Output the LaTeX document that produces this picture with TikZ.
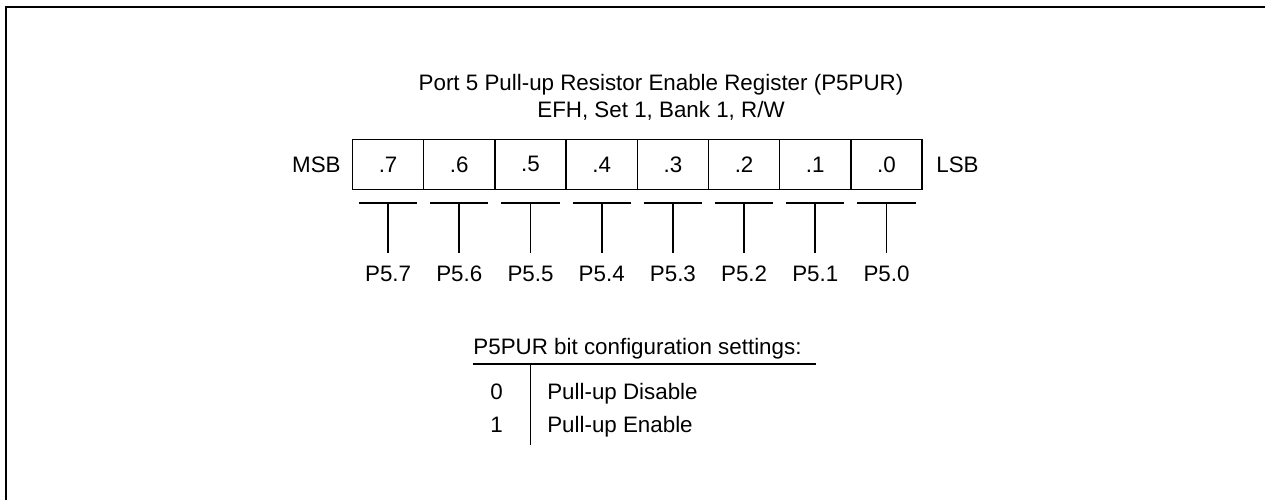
\documentclass[tikz,border=0pt]{standalone}
\usepackage{fontspec}
\setmainfont{Liberation Sans}
\usetikzlibrary{positioning}

\begin{document}
\begin{tikzpicture}[
    x=0.025cm, y=-0.025cm,
    every node/.style={font=\fontsize{15.9}{19}\selectfont, inner sep=0pt},
    cell/.style={rectangle, draw, line width=1.07pt, minimum width=1.78cm, minimum height=1.245cm},
    bar/.style={line width=1.2pt},
    frame/.style={line width=1.6pt}
]
\useasboundingbox (0,0) rectangle (1265,500);
% outer frame
\draw[frame] (5.7,500) -- (5.7,7.3) -- (1265,7.3);

% register title
\node[anchor=base] (title) at (661,90) {Port 5 Pull-up Resistor Enable Register (P5PUR)};
\node[anchor=base] (addr) at (661,117) {EFH, Set 1, Bank 1, R/W};

% bit cells, pin bars and pin names
\foreach \n [count=\i from 0] in {7,...,0} {
  \node[cell] (b\n) at (388.1+71.2*\i, 164.4) {.\n};
  \coordinate (t\n) at (388.1+71.2*\i, 203.3);
  \coordinate (e\n) at (388.1+71.2*\i, 253.3);
  \draw[bar] ([xshift=-0.725cm]t\n) -- ([xshift=0.725cm]t\n);
  \draw[bar] (t\n) -- (e\n);
  \node[anchor=base] (p\n) at (388.1+71.2*\i, 281.5) {P5.\n};
}
\node[left=0.27cm of b7] (msb) {MSB};
\node[right=0.33cm of b0] (lsb) {LSB};

% settings table
\node[anchor=base] (cfg) at (637.5,354) {P5PUR bit configuration settings:};
\coordinate (ul) at (472.7,364);
\coordinate (ur) at (815.5,364);
\coordinate (vt) at (530.5,364);
\coordinate (vb) at (530.5,444.5);
\draw[bar] (ul) -- (ur);
\draw[bar] (vt) -- (vb);
\node[anchor=base] (v0) at (496.5,399) {0};
\node[anchor=base west] (d0) at (547,399) {Pull-up Disable};
\node[anchor=base] (v1) at (496.5,432) {1};
\node[anchor=base west] (d1) at (547,432) {Pull-up Enable};
\end{tikzpicture}
\end{document}
